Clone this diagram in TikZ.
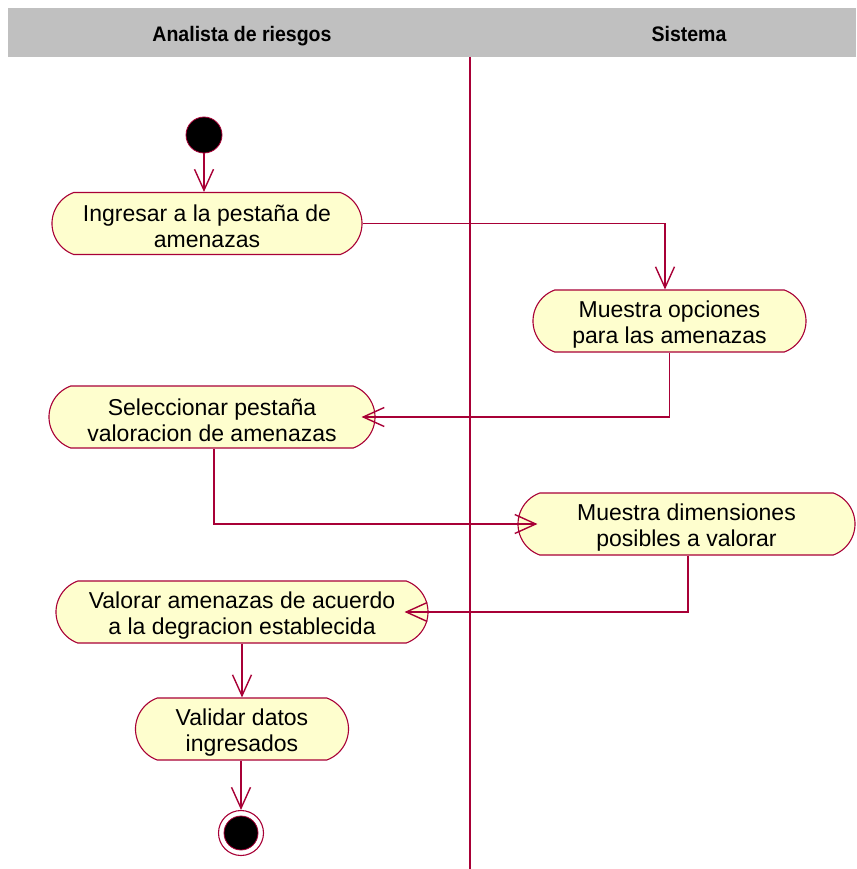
\documentclass[tikz,border=0pt]{standalone}
\usepackage{fontspec}
\setmainfont{Liberation Sans}
\newfontfamily\lanefont{Liberation Sans}[FakeStretch=0.93]
\usetikzlibrary{arrows.meta,shapes.misc}

\definecolor{umlred}{HTML}{A80036}
\definecolor{umlfill}{HTML}{FEFECE}
\definecolor{lanegray}{HTML}{C0C0C0}

% extra room above the first text line of an action
\newcommand\firstline{\rule{0pt}{23pt}}

\begin{document}
\begin{tikzpicture}[x=1pt,y=-1pt,
  action/.style={rounded rectangle, rounded rectangle arc length=140,
    draw=umlred, fill=umlfill, line width=1.1pt, align=center,
    inner sep=0pt, minimum height=62pt,
    font=\fontsize{23}{26}\selectfont},
  flow/.style={draw=umlred, line width=1.4pt,
    -{Straight Barb[length=21pt,width=19pt]}},
  lanehead/.style={font=\lanefont\bfseries\fontsize{21}{24}\selectfont,
    anchor=base},
  startnode/.style={circle, fill=black, draw=umlred, line width=0.8pt,
    minimum size=36pt, inner sep=0pt},
]
\useasboundingbox (0,0) rectangle (856,869);

% swimlane header and divider
\fill[lanegray] (8,8) rectangle (856,57);
\node[lanehead] (laneA) at (242,41.5) {Analista de riesgos};
\node[lanehead] (laneB) at (689,41.5) {Sistema};
\coordinate (divtop) at (470,57);
\coordinate (divbot) at (470,869);
\draw[umlred, line width=1.4pt] (divtop) -- (divbot);

% start node
\node[startnode] (start) at (204,135) {};

% actions
\node[action, minimum width=310pt] (a1) at (207,223.5)
  {\firstline Ingresar a la pestaña de\\amenazas};
\node[action, minimum width=273pt] (a2) at (669.5,321)
  {\firstline Muestra opciones\\para las amenazas};
\node[action, minimum width=326pt] (a3) at (212,417)
  {\firstline Seleccionar pestaña\\valoracion de amenazas};
\node[action, minimum width=337pt] (a4) at (686.5,524)
  {\firstline Muestra dimensiones\\posibles a valorar};
\node[action, minimum width=372pt] (a5) at (242,612)
  {\firstline Valorar amenazas de acuerdo\\a la degracion establecida};
\node[action, minimum width=213pt] (a6) at (242,729)
  {\firstline Validar datos\\ingresados};

% final node
\node[circle, draw=umlred, fill=white, line width=1.1pt,
  minimum size=45pt, inner sep=0pt] (final) at (241,833) {};
\node[startnode, minimum size=34pt] (finalcore) at (final) {};

% control flows
\draw[flow] (start) -- (start |- a1.north);
\draw[flow] (a1.east) -| ([xshift=-4.5pt]a2.north);
\draw[flow] (a2.south) |- ([xshift=-14pt]a3.east);
\draw[flow] ([xshift=2pt]a3.south) |- ([xshift=20pt]a4.west);
\draw[flow] ([xshift=1.5pt]a4.south) |- ([xshift=-24pt]a5.east);
\draw[flow] (a5.south) -- (a6.north);
\draw[flow] (final |- a6.south) -- (final.north);
\end{tikzpicture}
\end{document}
